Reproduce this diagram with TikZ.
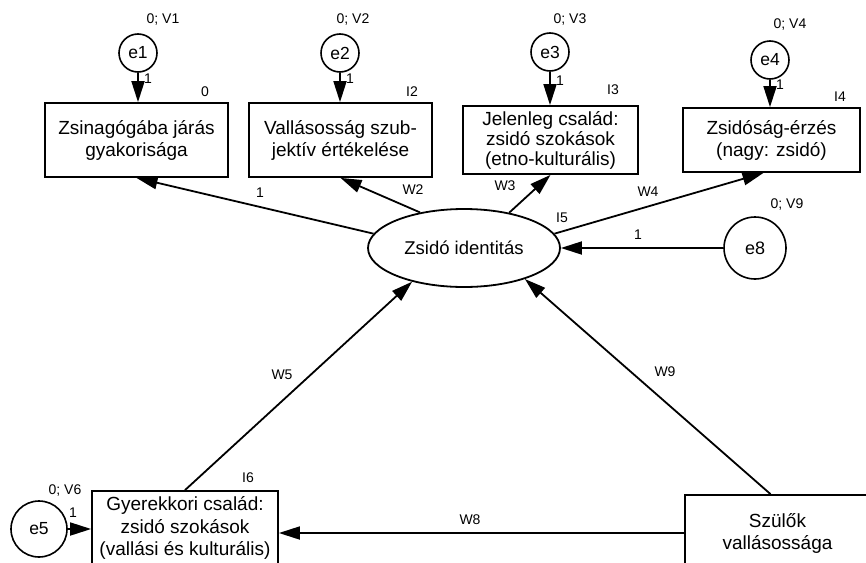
\documentclass[tikz,border=0pt]{standalone}
\usepackage{fontspec}
\setmainfont{Liberation Sans}
\usetikzlibrary{arrows.meta,shapes.geometric}
\begin{document}
\begin{tikzpicture}[x=1pt,y=-1pt,
 box/.style={draw,line width=1.8pt,align=center,font=\fontsize{19}{22}\selectfont,inner sep=0pt},
 err/.style={draw,circle,line width=1.6pt,minimum size=38pt,inner sep=0pt,font=\fontsize{17.5}{20}\selectfont},
 lab/.style={font=\fontsize{14}{16}\selectfont,inner sep=0pt},
 arr/.style={line width=1.8pt,-{Triangle[length=21pt,width=13pt]}},
]
\useasboundingbox (0,0) rectangle (866,562);
% observed boxes
\node[box,minimum width=183pt,minimum height=74pt] (b1) at (136.5,140) {Zsinagógába járás\\gyakorisága};
\node[box,minimum width=183pt,minimum height=74pt] (b2) at (340.5,140) {Vallásosság szub-\\jektív értékelése};
\node[box,minimum width=175pt,minimum height=68pt,font=\fontsize{19}{20}\selectfont] (b3) at (550.5,140) {Jelenleg család:\\zsidó szokások\\(etno-kulturális)};
\node[box,minimum width=177pt,minimum height=64pt] (b4) at (771.5,140) {Zsidóság-érzés\\(nagy: zsidó)};
\node[box,minimum width=186pt,minimum height=74pt,font=\fontsize{19}{22.5}\selectfont] (b6) at (185,528) {Gyerekkori család:\\zsidó szokások\\(vallási és kulturális)};
\node[box,minimum width=185pt,minimum height=76pt] (b7) at (777.5,533) {Szülők\\vallásossága};
% latent
\node[draw,ellipse,line width=1.8pt,minimum width=192pt,minimum height=78pt,inner sep=0pt,font=\fontsize{18.5}{22}\selectfont] (id) at (464,248) {Zsidó identitás};
% errors
\node[err] (e1) at (138,53) {e1};
\node[err] (e2) at (340,53) {e2};
\node[err] (e3) at (550,52) {e3};
\node[err] (e4) at (770,60) {e4};
\node[err,minimum size=62pt,font=\fontsize{18}{20}\selectfont] (e8) at (755,248) {e8};
\node[err,minimum size=56pt] (e5) at (39,529) {e5};
% variance labels
\node[lab] (v1) at (163,20) {0; V1};
\node[lab] (v2) at (353,20) {0; V2};
\node[lab] (v3) at (570,20) {0; V3};
\node[lab] (v4) at (790,25) {0; V4};
\node[lab] (v9) at (787,205) {0; V9};
\node[lab] (v6) at (65,490) {0; V6};
% intercept labels
\node[lab] (i1) at (205,92) {0};
\node[lab] (i2) at (412,92) {I2};
\node[lab] (i3) at (613,90) {I3};
\node[lab] (i4) at (840,97) {I4};
\node[lab] (i5) at (562,218) {I5};
\node[lab] (i6) at (248,478) {I6};
% error arrows
\draw[arr] (e1) -- (b1.north -| e1);
\draw[arr] (e2) -- (b2.north -| e2);
\draw[arr] (e3) -- (b3.north -| e3);
\draw[arr] (e4) -- (b4.north -| e4);
\draw[arr] (e5) -- (b6.west |- e5);
\draw[arr] (e8.west) -- (id.east);
\node[lab] (l1) at (148,79) {1};
\node[lab] (l2) at (350,79) {1};
\node[lab] (l3) at (560,81) {1};
\node[lab] (l4) at (780,85) {1};
\node[lab] (l5) at (73,513) {1};
\node[lab] (l8) at (638,235) {1};
% structural arrows
\draw[arr] (id.171) -- (b1.south);
\draw[arr] (id.141) -- (b2.south);
\draw[arr] (id.38) -- (b3.south);
\draw[arr] (id.9) -- ([xshift=-8pt]b4.south);
\draw[arr] (b6.north) -- (id.213);
\draw[arr] ([xshift=-7pt]b7.north) -- (id.333);
\draw[arr] (b7.west) -- (b6.east |- b7.west);
\node[lab] (w1) at (260,193) {1};
\node[lab] (w2) at (413,190) {W2};
\node[lab] (w3) at (505,186) {W3};
\node[lab] (w4) at (648,192) {W4};
\node[lab] (w5) at (282,375) {W5};
\node[lab] (w9) at (665,372) {W9};
\node[lab] (w8) at (470,520) {W8};
\end{tikzpicture}
\end{document}
